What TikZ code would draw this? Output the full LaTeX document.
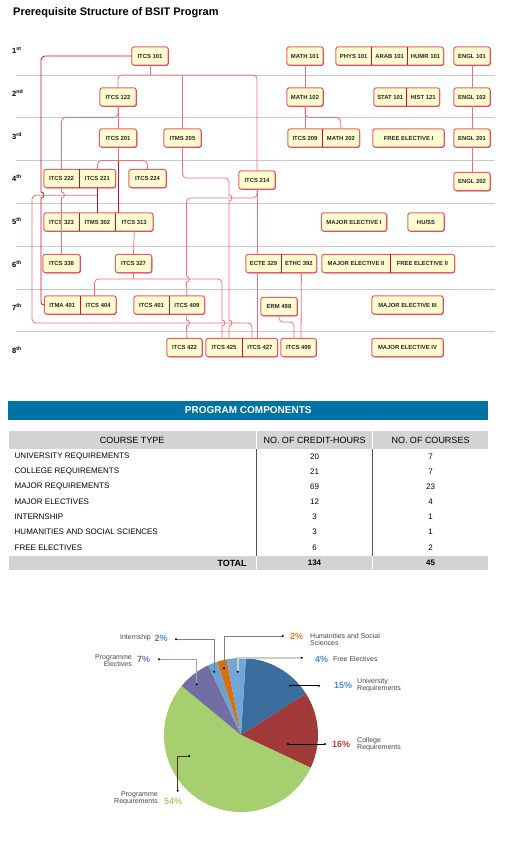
\documentclass[tikz,border=0pt]{standalone}
\usepackage{fontspec}
\setmainfont{Liberation Sans}
\usetikzlibrary{positioning,fit,backgrounds,shadows,calc}

\definecolor{BoxFill}{RGB}{255,253,208}
\definecolor{BoxLine}{RGB}{238,92,106}
\definecolor{DarkRed}{RGB}{200,16,46}
\definecolor{LinePink}{RGB}{242,110,122}
\definecolor{RuleGray}{RGB}{200,200,200}
\definecolor{BannerBlue}{RGB}{0,114,163}
\definecolor{CellGray}{RGB}{211,211,211}
\definecolor{ColRule}{RGB}{85,85,85}
\definecolor{LabelGray}{RGB}{70,70,70}
\definecolor{PieUni}{RGB}{58,110,158}
\definecolor{PieCol}{RGB}{160,57,56}
\definecolor{PieReq}{RGB}{166,208,112}
\definecolor{PieEle}{RGB}{112,110,162}
\definecolor{PieInt}{RGB}{108,162,212}
\definecolor{PieHum}{RGB}{216,112,14}
\definecolor{PieFre}{RGB}{114,166,214}
\definecolor{PctUni}{RGB}{74,140,204}
\definecolor{PctCol}{RGB}{190,60,60}
\definecolor{PctReq}{RGB}{170,205,110}
\definecolor{PctEle}{RGB}{120,112,175}
\definecolor{PctHum}{RGB}{230,120,30}

\tikzset{
	course/.style={inner sep=0pt, minimum height=18pt, minimum width=#1, text=black!85, font=\fontsize{5.9}{7}\bfseries\selectfont},
	course/.default=36pt,
	coursebox/.style={draw=BoxLine, fill=BoxFill, line width=1pt, rounded corners=2.5pt, inner sep=0pt,
		drop shadow={shadow xshift=0.6pt, shadow yshift=-0.6pt, fill=DarkRed, opacity=1}},
	divider/.style={DarkRed, line width=0.6pt},
	link/.style={LinePink, line width=0.8pt, rounded corners=4pt},
	dlink/.style={DarkRed, line width=0.8pt, rounded corners=4pt},
	rowrule/.style={RuleGray, line width=0.6pt},
	rowlabel/.style={anchor=west, inner sep=0pt, font=\fontsize{7.5}{9}\bfseries\selectfont},
	banner/.style={fill=BannerBlue, text=white, minimum width=480pt, minimum height=19pt, inner sep=0pt,
		font=\fontsize{10}{12}\bfseries\selectfont},
	headcell/.style={fill=CellGray, minimum width=#1, minimum height=18pt, inner sep=0pt, font=\fontsize{9}{11}\selectfont},
	rowtext/.style={inner sep=0pt, font=\fontsize{8}{10}\selectfont},
	pct/.style={anchor=west, inner sep=0pt, font=\fontsize{9}{10}\bfseries\selectfont},
	pielabel/.style={inner sep=0pt, text=LabelGray, font=\fontsize{7}{6.8}\selectfont},
	leader/.style={line width=0.6pt, gray},
}

\begin{document}
\begin{tikzpicture}[x=1pt, y=-1pt]
	\useasboundingbox (0,0) rectangle (523,853);
	\node[anchor=west, inner sep=0pt, font=\fontsize{11}{13}\bfseries\selectfont] (title) at (13,12.5) {Prerequisite Structure of BSIT Program};

	% semester labels
	\foreach \y/\n/\s in {50/1/st,93/2/nd,136/3/rd,178/4/th,221/5/th,264/6/th,307/7/th,350/8/th}
	\node[rowlabel] (row\n) at (12,\y) {\n\textsuperscript{\s}};

	% 1st
	\node[course] (itcs101) at (150,56) {ITCS 101};
	\node[course] (math101) at (305,56) {MATH 101};
	\node[course=35.5pt] (phys101) at (353.75,56) {PHYS 101};
	\node[course=35.5pt, right=0pt of phys101] (arab101) {ARAB 101};
	\node[course=35.5pt, right=0pt of arab101] (humr101) {HUMR 101};
	\node[course] (engl101) at (472,56) {ENGL 101};
	% 2nd
	\node[course] (itcs122) at (118,97) {ITCS 122};
	\node[course] (math102) at (305,97) {MATH 102};
	\node[course=32.5pt] (stat101) at (390.25,97) {STAT 101};
	\node[course=32.5pt, right=0pt of stat101] (hist121) {HIST 121};
	\node[course] (engl102) at (472,97) {ENGL 102};
	% 3rd
	\node[course=37pt] (itcs201) at (118,138) {ITCS 201};
	\node[course=37pt] (itms205) at (182.5,138) {ITMS 205};
	\node[course=34pt] (itcs209) at (305,138) {ITCS 209};
	\node[course=37pt, right=0pt of itcs209] (math202) {MATH 202};
	\node[course=71pt] (free1) at (408.5,138) {FREE ELECTIVE I};
	\node[course] (engl201) at (472,138) {ENGL 201};
	% 4th
	\node[course=35pt] (itcs222) at (61.5,178.5) {ITCS 222};
	\node[course, right=0pt of itcs222] (itcs221) {ITCS 221};
	\node[course=37pt] (itcs224) at (147.5,178.5) {ITCS 224};
	\node[course] (itcs214) at (257,180) {ITCS 214};
	\node[course] (engl202) at (472,181.5) {ENGL 202};
	% 5th
	\node[course=35pt] (itcs323) at (61.5,222) {ITCS 323};
	\node[course, right=0pt of itcs323] (itms302) {ITMS 302};
	\node[course=37pt, right=0pt of itms302] (itcs313) {ITCS 313};
	\node[course=65pt] (elec1) at (354,222) {MAJOR ELECTIVE I};
	\node[course] (huss) at (426,222) {HU/SS};
	% 6th
	\node[course=37pt] (itcs336) at (61.5,263.5) {ITCS 336};
	\node[course] (itcs327) at (133.5,263.5) {ITCS 327};
	\node[course=35pt] (ecte329) at (263.5,263.5) {ECTE 329};
	\node[course=35pt, right=0pt of ecte329] (ethc392) {ETHC 392};
	\node[course=68pt] (elec2) at (356,263.5) {MAJOR ELECTIVE II};
	\node[course=64pt, right=0pt of elec2] (free2) {FREE ELECTIVE II};
	% 7th
	\node[course=35.5pt] (itma401) at (62.25,305) {ITMA 401};
	\node[course=35.5pt, right=0pt of itma401] (itcs404) {ITCS 404};
	\node[course=35pt] (itcs401) at (151.5,305) {ITCS 401};
	\node[course=35pt, right=0pt of itcs401] (itcs409) {ITCS 409};
	\node[course] (erm498) at (279,306.5) {ERM 498};
	\node[course=71pt] (elec3) at (407.5,305) {MAJOR ELECTIVE III};
	% 8th
	\node[course=35pt] (itcs422) at (184.5,347.5) {ITCS 422};
	\node[course] (itcs425) at (224,347.5) {ITCS 425};
	\node[course=35pt, right=0pt of itcs425] (itcs427) {ITCS 427};
	\node[course=35pt] (itcs499) at (298.5,347.5) {ITCS 499};
	\node[course=71pt] (elec4) at (407.5,347.5) {MAJOR ELECTIVE IV};

	\begin{scope}[on background layer]
		\foreach \y in {75,117.5,160.5,203,246,289,331.5}
		\draw[rowrule] (16,\y) -- (495,\y);
		\foreach \a/\b in {itcs101/itcs101, math101/math101, phys101/humr101, engl101/engl101,
			itcs122/itcs122, math102/math102, stat101/hist121, engl102/engl102,
			itcs201/itcs201, itms205/itms205, itcs209/math202, free1/free1, engl201/engl201,
			itcs222/itcs221, itcs224/itcs224, itcs214/itcs214, engl202/engl202,
			itcs323/itcs313, elec1/elec1, huss/huss,
			itcs336/itcs336, itcs327/itcs327, ecte329/ethc392, elec2/free2,
			itma401/itcs404, itcs401/itcs409, erm498/erm498, elec3/elec3,
			itcs422/itcs422, itcs425/itcs427, itcs499/itcs499, elec4/elec4}
		\node[coursebox, fit=(\a)(\b)] (f\a) {};
	\end{scope}
	\foreach \a in {phys101,arab101,stat101,itcs209,itcs222,itcs323,itms302,ecte329,elec2,itma401,itcs401,itcs425}
	\draw[divider] (\a.north east) -- (\a.south east);

	% prerequisite links
	\draw[dlink] (itcs101.west) -| (41,150) [sharp corners] -- (41,192) arc[start angle=90, end angle=-90, radius=3pt] -- (41,250) [rounded corners=3pt] |- (itma401.west);
	\draw[link] (itcs101.south) -- ++(0,10);
	\draw[link] (itcs122.north) |- (257,75) -- (itcs214.north);
	\draw[link] (itms205.north) -- ++(0,-54);
	\draw[link] (itcs122.south) -- (itcs201.north);
	\draw[link] (itcs122.south) |- (61.5,117.5) -- (itcs222.north);
	\draw[link, sharp corners] (itcs222.south) -- (61.5,192) arc[start angle=90, end angle=-90, radius=3pt] -- (itcs336.north);
	\draw[dlink] (itcs201.south) -- (itcs201.south |- itcs313.north);
	\draw[link] (itcs201.south) -- ++(0,13.5);
	\draw[link] (itcs221.north) |- (147.5,160.5) -- (itcs224.north);
	\draw[link] ($(itcs221.south)+(0,7.5)$) -| (32,323) -| ($(itcs427.north)+(-8,0)$);
	\draw[dlink] (itcs221.south) -- (itms302.north);
	\draw[link] (itms205.south) |- (229,178) -- (229,186) [sharp corners] -- (229,195) arc[start angle=90, end angle=-90, radius=3pt] -- (229,320) arc[start angle=90, end angle=-90, radius=3pt] -- ($(itcs425.north)+(5,0)$);
	\draw[link] (itcs214.south) -- (itcs214.south |- ecte329.north);
	\draw[link] (itcs214.south |- ecte329.south) -- (itcs214.south |- itcs427.north);
	\draw[link] (itcs214.south) |- (186.5,198) -- (186.5,240) [sharp corners] -- (186.5,276) arc[start angle=90, end angle=-90, radius=3pt] -- (itcs409.north);
	\draw[link, sharp corners] (itcs409.south) -- (186.5,320) arc[start angle=90, end angle=-90, radius=3pt] -- (itcs409.south |- itcs422.north);
	\draw[link] (itcs313.south) -- (itcs327.north);
	\draw[link] (itcs327.south) -- ++(0,6.5);
	\draw[link] ($(itcs404.north)+(-3.75,0)$) |- (222,279) -- (222,300) [sharp corners] -- (222,320) arc[start angle=90, end angle=-90, radius=3pt] -- ($(itcs425.north)+(-2,0)$);
	\draw[link] ($(ethc392.south)+(2.5,0)$) -- ($(itcs499.north)+(2.5,0)$);
	\draw[link] (erm498.south) |- (294,322) -- ($(itcs499.north)+(-4.5,0)$);
	\draw[link] (math101.south) -- (math102.north);
	\draw[link] (math102.south) -- (itcs209.north);
	\draw[link] (math102.south) |- (340.5,117.5) -- (math202.north);
	\foreach \a/\b in {engl101/engl102, engl102/engl201, engl201/engl202}
	\draw[link] (\a.south) -- (\b.north);

	% program components
	\node[banner] (banner) at (248.3,410.5) {PROGRAM COMPONENTS};
	\node[headcell=247pt] (hType) at (132.2,440) {COURSE TYPE};
	\node[headcell=115pt] (hHours) at (314.5,440) {NO. OF CREDIT-HOURS};
	\node[headcell=115pt] (hCount) at (430.5,440) {NO. OF COURSES};
	\foreach \t/\h/\n [count=\i] in {UNIVERSITY REQUIREMENTS/20/7, COLLEGE REQUIREMENTS/21/7, MAJOR REQUIREMENTS/69/23,
		MAJOR ELECTIVES/12/4, INTERNSHIP/3/1, HUMANITIES AND SOCIAL SCIENCES/3/1, FREE ELECTIVES/6/2} {
		\node[rowtext, anchor=west] (type\i) at (14.5,{441.6+15.1*\i}) {\t};
		\node[rowtext] (hours\i) at (314.5,{441.6+15.1*\i}) {\h};
		\node[rowtext] (count\i) at (430.5,{441.6+15.1*\i}) {\n};
	}
	\node[headcell=247pt, minimum height=14.5pt, text width=229pt, align=right, font=\fontsize{9}{11}\bfseries\selectfont] (tType) at (132.2,563) {TOTAL};
	\node[headcell=115pt, minimum height=14.5pt, font=\fontsize{8}{10}\bfseries\selectfont] (tHours) at (314.5,563) {134};
	\node[headcell=115pt, minimum height=14.5pt, font=\fontsize{8}{10}\bfseries\selectfont] (tCount) at (430.5,563) {45};
	\draw[ColRule, line width=0.8pt] (256.4,449) -- (256.4,555.7);
	\draw[ColRule, line width=0.8pt] (372.5,449) -- (372.5,555.7);

	% pie chart
	\begin{scope}[shift={(241,735)}, y=1pt]
		\foreach \a/\b/\c in {86.4/32.4/PieUni, 32.4/-25.2/PieCol, -25.2/-219.6/PieReq, -219.6/-244.8/PieEle,
			-244.8/-252/PieInt, -252/-259.2/PieHum, -259.2/-273.6/PieFre}
		\fill[\c] (0,0) -- (\a:77) arc[start angle=\a, end angle=\b, radius=77] -- cycle;
	\end{scope}

	\coordinate (dUni) at (290,685.7); \coordinate (eUni) at (319,685.7);
	\coordinate (dCol) at (288,744); \coordinate (eCol) at (325,744);
	\coordinate (dReq) at (189.3,756); \coordinate (eReq) at (177.7,790.7);
	\coordinate (dEle) at (196.7,684.3); \coordinate (eEle) at (159,659.3);
	\coordinate (dInt) at (214.3,671.7); \coordinate (eInt) at (176,639.3);
	\coordinate (dHum) at (224,668.3); \coordinate (eHum) at (282.7,636);
	\coordinate (dFre) at (237.7,671.7); \coordinate (eFre) at (301.7,657.7);
	\draw[leader, black, line width=0.9pt] (dUni) -- (eUni);
	\draw[leader, black, line width=0.9pt] (dCol) -- (eCol);
	\draw[leader, black!60!brown] (dReq) -| (eReq);
	\draw[leader, gray!70, line width=1.1pt] (dEle) |- (eEle);
	\draw[leader] (dInt) |- (eInt);
	\draw[leader] (dHum) |- (eHum);
	\draw[leader, gray!40, line width=1.6pt] (dFre) |- (eFre);
	\foreach \p in {dUni,eUni,dCol,eCol,dReq,eReq,dEle,eEle,dInt,eInt,dHum,eHum,dFre,eFre}
	\fill (\p) circle (1.1pt);

	\node[pct, text=PctUni] (pUni) at (334,685) {15\%};
	\node[pielabel, anchor=west, align=left] (lUni) at (357,685) {University\\Requirements};
	\node[pct, text=PctCol] (pCol) at (332,744.5) {16\%};
	\node[pielabel, anchor=west, align=left] (lCol) at (357,744.5) {College\\Requirements};
	\node[pct, text=PctReq] (pReq) at (164,801) {54\%};
	\node[pielabel, anchor=east, align=right] (lReq) at (158,798) {Programme\\Requirements};
	\node[pct, text=PctEle] (pEle) at (137,659) {7\%};
	\node[pielabel, anchor=east, align=right] (lEle) at (132,661) {Programme\\Electives};
	\node[pct, text=PctUni] (pInt) at (154.5,638.5) {2\%};
	\node[pielabel, anchor=east] (lInt) at (151,638) {Internship};
	\node[pct, text=PctHum] (pHum) at (290,636.5) {2\%};
	\node[pielabel, anchor=west, align=left] (lHum) at (310,639.7) {Humanities and Social\\Sciences};
	\node[pct, text=PctUni] (pFre) at (315,659) {4\%};
	\node[pielabel, anchor=west] (lFre) at (333,659) {Free Electives};
\end{tikzpicture}
\end{document}
